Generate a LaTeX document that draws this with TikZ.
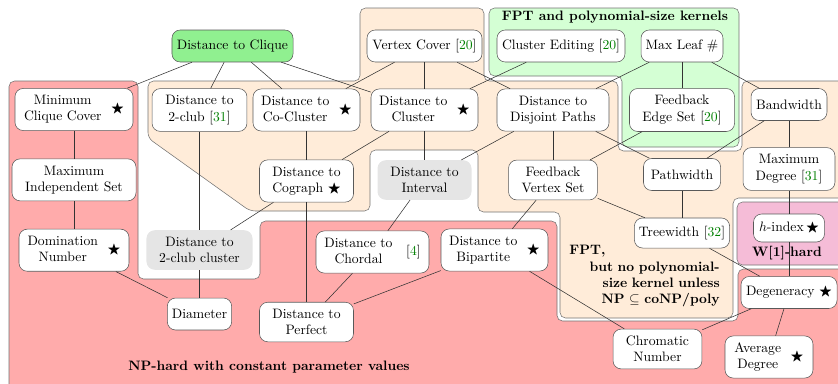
\documentclass[tikz,border=0pt]{standalone}
\usepackage{amssymb}
\usepackage{tikz}
\usetikzlibrary{shapes,calc}
\definecolor{cliquegreen}{RGB}{144,240,144}
\definecolor{whard}{RGB}{245,188,215}
\tikzstyle{line} = [draw, black!80]
\tikzstyle{block} = [draw=black!65, fill=white, rectangle, rounded corners=6pt, text centered, align=center, minimum height=23.4pt, inner xsep=3.3pt, inner ysep=5pt]
\tikzstyle{starblock} = [block, inner ysep=3.4pt]
\tikzstyle{grayblock} = [block, draw=none, fill=gray!20]
\tikzstyle{region} = [draw=black!55, rounded corners=4pt]
\tikzstyle{classname} = [font=\bfseries]
\newcommand{\cit}[1]{[\textcolor{green!50!black}{#1}]}
\newcommand{\starred}[1]{\begin{tabular}{@{}c@{}}#1\end{tabular}\hspace{7pt}$\bigstar$}

\begin{document}
\begin{tikzpicture}[x=0.732pt, y=-0.732pt, node distance=51.5pt]
        \useasboundingbox (0,0) rectangle (838,383);
        % complexity classes
        \path[region, fill=red!33] (9,81) -- (138,81) -- (138,279) -- (260,279) -- (260,221) -- (557,221) -- (557,321) -- (738,321) -- (738,269) -- (860,269) -- (860,400) -- (9,400) -- cycle;
        \path[region, fill=orange!15] (148,81) -- (360,81) -- (360,8) -- (484,8) -- (484,81) -- (618,81) -- (618,151) -- (742,151) -- (742,81) -- (860,81) -- (860,198) -- (733,198) -- (733,318) -- (560,318) -- (560,212) -- (478,212) -- (478,150) -- (370,150) -- (370,211) -- (250,211) -- (148,138) -- cycle;
        \path[region, fill=green!17] (489,8) -- (739,8) -- (739,147) -- (622,147) -- (622,76) -- (489,76) -- cycle;
        \path[region, fill=whard] (737,202) rectangle (860,265);
        \node[classname] at (615,17) {FPT and polynomial-size kernels};
        \node[classname] at (269,367) {NP-hard with constant parameter values};
        \node[classname, anchor=north east, text width=110pt, align=right, inner sep=0pt] at (720,245) {\makebox[110pt][l]{FPT,}\\but no polynomial-\\size kernel unless\\NP $\subseteq$ coNP/poly};
        \node[classname] at (787,253) {W[1]-hard};
        % parameters
        \node[block, fill=cliquegreen, minimum width=88.6pt] (clique) at (232.5,46) {Distance to Clique};
        \node[block, minimum width=84.2pt] (vc) at (424.5,46) {Vertex Cover \cit{20}};
        \node[block, minimum width=93.7pt] (cedit) at (561,46) {Cluster Editing \cit{20}};
        \node[block, minimum width=60pt] (maxleaf) at (682,46) {Max Leaf \#};
        \node[starblock, minimum width=86.4pt] (mcc) at (74,109.5) {\starred{Minimum\\Clique Cover}};
        \node[block, minimum width=90.8pt, below of=mcc] (mis) {Maximum\\Independent Set};
        \node[starblock, minimum width=80.5pt, below of=mis] (dom) {\starred{Domination\\Number}};
        \node[block, minimum width=69.5pt] (twoclub) at (199.5,110) {Distance to\\2-club \cit{31}};
        \node[starblock, minimum width=78.3pt] (cocluster) at (306.5,110) {\starred{Distance to\\Co-Cluster}};
        \node[starblock, minimum width=78.3pt] (cluster) at (424.5,110) {\starred{Distance to\\Cluster}};
        \node[block, minimum width=82pt] (dpaths) at (553,110) {Distance to\\Disjoint Paths};
        \node[block, minimum width=76.9pt] (fes) at (682,110) {Feedback\\Edge Set \cit{20}};
        \node[block, minimum width=55.6pt] (bandwidth) at (789,104.5) {Bandwidth};
        \node[block, minimum width=68.8pt] (cograph) at (306.5,181) {Distance to\\Cograph~$\bigstar$};
        \node[grayblock, minimum width=68.8pt] (interval) at (424.5,180) {Distance to\\Interval};
        \node[block, minimum width=65.1pt] (fvs) at (553,180) {Feedback\\Vertex Set};
        \node[block, minimum width=56.4pt] (pathwidth) at (682,174.5) {Pathwidth};
        \node[block, minimum width=67.3pt] (maxdeg) at (789,169) {Maximum\\Degree \cit{31}};
        \node[grayblock, minimum width=77.6pt] (twoclubcl) at (199.5,250) {Distance to\\2-club cluster};
        \node[starblock, minimum width=82.7pt] (chordal) at (372.5,252) {\begin{tabular}{@{}c@{}}Distance to\\Chordal\end{tabular}\hspace{10pt}\cit{4}};
        \node[starblock, minimum width=78.3pt] (bipartite) at (494.5,250) {\starred{Distance to\\Bipartite}};
        \node[block, minimum width=69.5pt, minimum height=22pt] (treewidth) at (682,233) {Treewidth \cit{32}};
        \node[block, minimum width=52pt, minimum height=20.5pt] (hindex) at (789,228) {$h$-index\,$\bigstar$};
        \node[block, minimum width=46.8pt] (diameter) at (199.5,314) {Diameter};
        \node[block, minimum width=68.8pt] (perfect) at (306.5,322) {Distance to\\Perfect};
        \node[block, minimum width=70.3pt] (degeneracy) at (789,292.5) {Degeneracy~$\bigstar$};
        \node[block, minimum width=65.1pt] (chromatic) at (657.5,349) {Chromatic\\Number};
        \node[starblock, minimum width=64.4pt] (avgdeg) at (769,357) {\starred{Average\\Degree}};
        % relations
        \path[line] (clique) -- (mcc);
        \path[line] (clique) -- (twoclub);
        \path[line] (clique) -- (cocluster);
        \path[line] (clique) -- (cluster);
        \path[line] (vc) -- (cocluster);
        \path[line] (vc) -- (cluster);
        \path[line] (vc) -- (dpaths);
        \path[line] (cedit) -- (cluster);
        \path[line] (maxleaf) -- (dpaths);
        \path[line] (maxleaf) -- (fes);
        \path[line] (maxleaf) -- (bandwidth);
        \path[line] (mcc) -- (mis);
        \path[line] (mis) -- (dom);
        \path[line] (dom) -- (diameter);
        \path[line] (twoclub) -- (twoclubcl);
        \path[line] (twoclubcl) -- (diameter);
        \path[line] (cocluster) -- (cograph);
        \path[line] (cluster) -- (cograph);
        \path[line] (cograph) -- (twoclubcl);
        \path[line] (cograph) -- (perfect);
        \path[line] (cluster) -- (interval);
        \path[line] (dpaths) -- (interval);
        \path[line] (dpaths) -- (fvs);
        \path[line] (dpaths) -- (pathwidth);
        \path[line] (fes) -- (fvs);
        \path[line] (bandwidth) -- (pathwidth);
        \path[line] (bandwidth) -- (maxdeg);
        \path[line] (maxdeg) -- (hindex);
        \path[line] (hindex) -- (degeneracy);
        \path[line] (pathwidth) -- (treewidth);
        \path[line] (fvs) -- (treewidth);
        \path[line] (fvs) -- (bipartite);
        \path[line] (treewidth) -- (degeneracy);
        \path[line] (interval) -- (chordal);
        \path[line] (chordal) -- (perfect);
        \path[line] (bipartite) -- (perfect);
        \path[line] (bipartite) -- (chromatic);
        \path[line] (degeneracy) -- (chromatic);
        \path[line] (degeneracy) -- (avgdeg);
    \end{tikzpicture}
\end{document}
